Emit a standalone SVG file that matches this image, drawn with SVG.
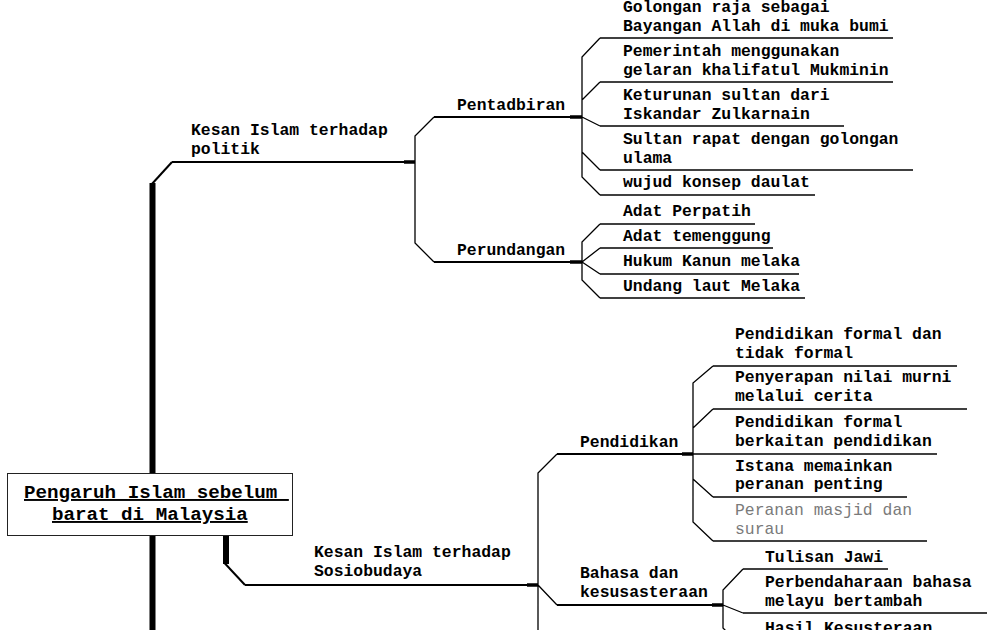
<svg xmlns="http://www.w3.org/2000/svg" width="993" height="630" viewBox="0 0 993 630">
<style>
.t{font-family:"Liberation Mono",monospace;font-size:16.4px;font-weight:bold;fill:#000}
.g{font-weight:normal;fill:#7a7a7a}
.r{font-family:"Liberation Mono",monospace;font-size:19.2px;font-weight:bold;fill:#000;text-decoration:underline}
.ln{stroke:#000;stroke-width:1.5;fill:none}
.pl{stroke:#000;stroke-width:2;fill:none}
.th{stroke:#000;stroke-width:3.5;fill:none}
.cn{stroke:#000;stroke-width:1.3;fill:none}
.bar{stroke:#000;stroke-width:6;fill:none}
</style>
<rect width="993" height="630" fill="#fff"/>
<g id="connectors">
  <line class="bar" x1="152.5" y1="183" x2="152.5" y2="630"/>
  <line class="pl" x1="151" y1="185" x2="172" y2="162"/>
  <line class="th" x1="404" y1="162" x2="415" y2="162"/>
  <path class="cn" d="M434,117 L415,136 L415,243 L434,262"/>
  <line class="th" x1="570" y1="117" x2="582" y2="117"/>
  <line class="th" x1="570" y1="262" x2="582" y2="262"/>
  <path class="cn" d="M600,38 L582,57 L582,177 L600,195 M582,100 L600,82 M582,117 L600,126 M582,152 L600,170"/>
  <path class="cn" d="M600,224 L582,242 L582,280 L600,298 M582,262 L600,248 M582,262 L600,274"/>
  <line class="bar" x1="226" y1="536" x2="226" y2="564"/>
  <line class="pl" x1="224.5" y1="563" x2="245" y2="585"/>
  <line class="th" x1="527" y1="585" x2="538" y2="585"/>
  <path class="cn" d="M557,454 L538,473 L538,630 M538,585 L557,605"/>
  <line class="th" x1="682" y1="454" x2="693" y2="454"/>
  <line class="th" x1="712" y1="605" x2="723" y2="605"/>
  <path class="cn" d="M713,366 L693,383 L693,522 L713,541 M693,428 L713,409 M693,479 L713,497"/>
  <path class="cn" d="M743,569 L723,590 L723,628 L743,648 M723,605 L743,613"/>
</g>
<g id="root">
  <rect x="7.5" y="473.5" width="285" height="62" fill="#fff" stroke="#222" stroke-width="1"/>
  <text class="r" x="24" y="498" xml:space="preserve">Pengaruh Islam sebelum </text>
  <text class="r" x="52" y="520">barat di Malaysia</text>
</g>
<g id="politik">
  <line class="pl" x1="172" y1="162" x2="404" y2="162"/>
  <text class="t" x="191" y="135">Kesan Islam terhadap</text>
  <text class="t" x="191" y="154">politik</text>
</g>
<g id="pentadbiran">
  <line class="pl" x1="434" y1="117" x2="570" y2="117"/>
  <text class="t" x="457" y="110">Pentadbiran</text>
</g>
<g id="perundangan">
  <line class="pl" x1="434" y1="262" x2="570" y2="262"/>
  <text class="t" x="457" y="255">Perundangan</text>
</g>
<g id="p1">
  <line class="ln" x1="600" y1="38" x2="893" y2="38"/>
  <text class="t" x="623" y="12">Golongan raja sebagai</text>
  <text class="t" x="623" y="31">Bayangan Allah di muka bumi</text>
</g>
<g id="p2">
  <line class="ln" x1="600" y1="82" x2="893" y2="82"/>
  <text class="t" x="623" y="56">Pemerintah menggunakan</text>
  <text class="t" x="623" y="75">gelaran khalifatul Mukminin</text>
</g>
<g id="p3">
  <line class="ln" x1="600" y1="126" x2="844" y2="126"/>
  <text class="t" x="623" y="100">Keturunan sultan dari</text>
  <text class="t" x="623" y="119">Iskandar Zulkarnain</text>
</g>
<g id="p4">
  <line class="ln" x1="600" y1="170" x2="913" y2="170"/>
  <text class="t" x="623" y="144">Sultan rapat dengan golongan</text>
  <text class="t" x="623" y="163">ulama</text>
</g>
<g id="p5">
  <line class="ln" x1="600" y1="195" x2="815" y2="195"/>
  <text class="t" x="623" y="187">wujud konsep daulat</text>
</g>
<g id="u1">
  <line class="ln" x1="600" y1="224" x2="755" y2="224"/>
  <text class="t" x="623" y="216">Adat Perpatih</text>
</g>
<g id="u2">
  <line class="ln" x1="600" y1="248" x2="773" y2="248"/>
  <text class="t" x="623" y="241">Adat temenggung</text>
</g>
<g id="u3">
  <line class="ln" x1="600" y1="274" x2="799" y2="274"/>
  <text class="t" x="623" y="266">Hukum Kanun melaka</text>
</g>
<g id="u4">
  <line class="ln" x1="600" y1="298" x2="805" y2="298"/>
  <text class="t" x="623" y="291">Undang laut Melaka</text>
</g>
<g id="sosiobudaya">
  <line class="pl" x1="245" y1="585" x2="527" y2="585"/>
  <text class="t" x="314" y="557">Kesan Islam terhadap</text>
  <text class="t" x="314" y="576">Sosiobudaya</text>
</g>
<g id="pendidikan">
  <line class="pl" x1="557" y1="454" x2="682" y2="454"/>
  <text class="t" x="580" y="447">Pendidikan</text>
</g>
<g id="bahasa">
  <line class="pl" x1="557" y1="605" x2="712" y2="605"/>
  <text class="t" x="580" y="578">Bahasa dan</text>
  <text class="t" x="580" y="597">kesusasteraan</text>
</g>
<g id="d1">
  <line class="ln" x1="713" y1="366" x2="957" y2="366"/>
  <text class="t" x="735" y="339">Pendidikan formal dan</text>
  <text class="t" x="735" y="358">tidak formal</text>
</g>
<g id="d2">
  <line class="ln" x1="713" y1="409" x2="967" y2="409"/>
  <text class="t" x="735" y="382">Penyerapan nilai murni</text>
  <text class="t" x="735" y="401">melalui cerita</text>
</g>
<g id="d3">
  <line class="ln" x1="693" y1="454" x2="937" y2="454"/>
  <text class="t" x="735" y="427">Pendidikan formal</text>
  <text class="t" x="735" y="446">berkaitan pendidikan</text>
</g>
<g id="d4">
  <line class="ln" x1="713" y1="497" x2="907" y2="497"/>
  <text class="t" x="735" y="471">Istana memainkan</text>
  <text class="t" x="735" y="489">peranan penting</text>
</g>
<g id="d5">
  <line class="ln" x1="713" y1="541" x2="927" y2="541"/>
  <text class="t g" x="735" y="515">Peranan masjid dan</text>
  <text class="t g" x="735" y="534">surau</text>
</g>
<g id="b1">
  <line class="ln" x1="743" y1="569" x2="888" y2="569"/>
  <text class="t" x="765" y="562">Tulisan Jawi</text>
</g>
<g id="b2">
  <line class="ln" x1="743" y1="613" x2="987" y2="613"/>
  <text class="t" x="765" y="587">Perbendaharaan bahasa</text>
  <text class="t" x="765" y="606">melayu bertambah</text>
</g>
<g id="b3">
  <text class="t" x="765" y="633">Hasil Kesusteraan</text>
</g>
</svg>
